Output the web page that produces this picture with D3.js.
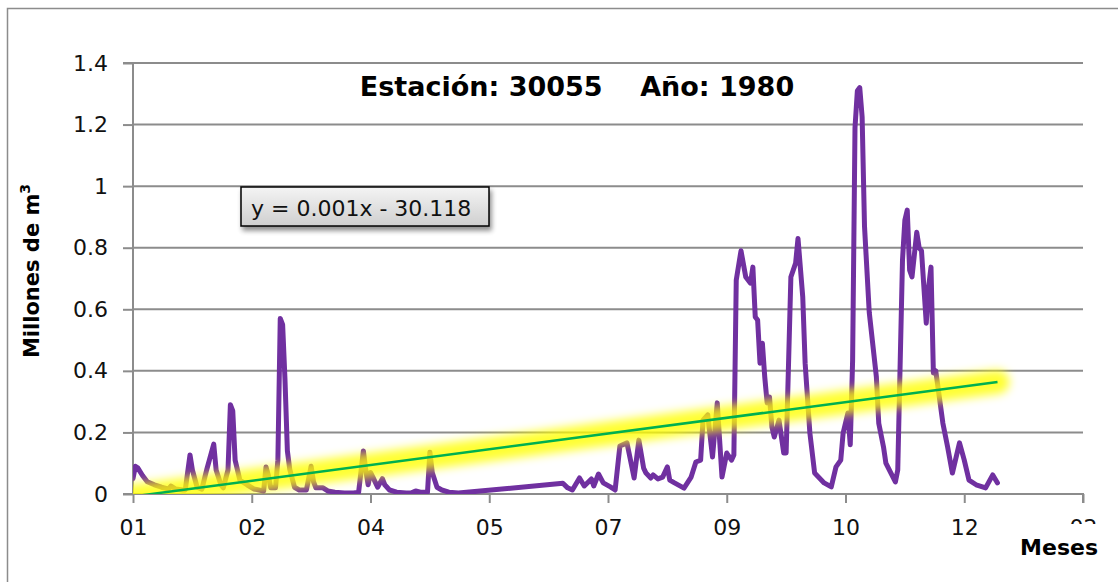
<!DOCTYPE html>
<html>
<head>
<meta charset="utf-8">
<script src="https://cdn.jsdelivr.net/npm/d3@7"></script>
<style>
html,body{margin:0;padding:0;background:#fff;}
svg{display:block;font-family:"DejaVu Sans",sans-serif;}
</style>
</head>
<body>
<svg id="chart" width="1118" height="582"></svg>
<script>
// ---- data ----
const days = [0,1,2,4,6,9,12,15,16,18,21,22,24,25,27,29,31,34,35,37,38,40,41,42,43,45,48,51,55,56,57,58,60,61,62,63,64,65,66,68,70,73,75,76,77,80,82,85,89,93,95,97,98,99,100,101,103,105,106,108,111,115,117,119,121,124,125,126,128,130,133,137,181,183,185,188,190,193,194,196,198,201,203,205,208,211,213,215,216,218,219,221,223,225,226,228,232,235,237,239,240,242,244,246,248,250,252,253,254,256,258,260,261,262,263,264,265,266,267,268,269,270,272,274,275,277,279,280,282,283,285,287,291,294,296,298,299,301,302,303,304,305,306,307,308,310,313,314,316,317,321,322,324,325,326,327,328,330,331,332,334,335,336,337,338,341,343,345,348,350,352,355,359,362,364];
const flows = [0.05,0.09,0.085,0.06,0.04,0.03,0.022,0.016,0.026,0.016,0.013,0.013,0.127,0.078,0.022,0.016,0.078,0.162,0.078,0.03,0.02,0.078,0.29,0.27,0.11,0.045,0.03,0.016,0.01,0.088,0.06,0.02,0.02,0.11,0.57,0.55,0.37,0.14,0.08,0.022,0.013,0.013,0.09,0.04,0.02,0.02,0.01,0.006,0.003,0.003,0.006,0.14,0.078,0.03,0.07,0.055,0.022,0.05,0.03,0.013,0.006,0.003,0.003,0.01,0.006,0.006,0.136,0.07,0.022,0.013,0.006,0.003,0.035,0.02,0.013,0.052,0.026,0.049,0.026,0.065,0.036,0.023,0.013,0.156,0.166,0.052,0.175,0.084,0.068,0.052,0.062,0.049,0.055,0.088,0.045,0.036,0.019,0.055,0.104,0.11,0.24,0.257,0.12,0.296,0.055,0.133,0.11,0.127,0.695,0.79,0.705,0.685,0.737,0.575,0.565,0.425,0.49,0.38,0.296,0.315,0.218,0.185,0.24,0.133,0.133,0.705,0.75,0.83,0.64,0.425,0.198,0.068,0.036,0.023,0.088,0.11,0.198,0.263,0.16,0.435,1.19,1.31,1.32,1.225,0.87,0.59,0.38,0.23,0.153,0.1,0.039,0.078,0.76,0.89,0.922,0.727,0.705,0.85,0.8,0.79,0.555,0.672,0.737,0.393,0.40,0.23,0.153,0.068,0.166,0.11,0.045,0.03,0.02,0.062,0.036];
const trendDays = [0, 364];
const trendValues = [-0.008, 0.364];
const xTickDays = [0,50,100,150,200,250,300,350,400];
const xTickLabels = ["01","02","04","05","07","09","10","12","02"];
const yTicks = [0,0.2,0.4,0.6,0.8,1,1.2,1.4];
const yTickLabels = ["0","0.2","0.4","0.6","0.8","1","1.2","1.4"];
const titleText = "Estación: 30055    Año: 1980";
const equationText = "y = 0.001x - 30.118";

// ---- helpers ----
const base = new Date(1980,0,1).getTime();
const toDate = d => new Date(base + d*864e5);

const svg = d3.select("#chart");
const L = 133, R = 1083, T = 63, B = 494;
const x = d3.scaleTime().domain([toDate(0), toDate(400)]).range([L,R]);
const y = d3.scaleLinear().domain([0,1.4]).range([B,T]);

const defs = svg.append("defs");
defs.append("clipPath").attr("id","plotclip").append("rect")
  .attr("x",L).attr("y",T-5).attr("width",R-L+40).attr("height",B-T+5);
defs.append("clipPath").attr("id","lastclip").append("rect")
  .attr("x",1040).attr("y",515).attr("width",80).attr("height",9);
const blur = defs.append("filter").attr("id","glow").attr("x","-20%").attr("y","-200%").attr("width","140%").attr("height","500%");
blur.append("feGaussianBlur").attr("stdDeviation",5);
const grad = defs.append("linearGradient").attr("id","boxg").attr("x1",0).attr("y1",0).attr("x2",0).attr("y2",1);
grad.append("stop").attr("offset","0%").attr("stop-color","#f4f4f4");
grad.append("stop").attr("offset","100%").attr("stop-color","#cfcfcf");
const sh = defs.append("filter").attr("id","shadow").attr("x","-10%").attr("y","-30%").attr("width","130%").attr("height","180%");
sh.append("feGaussianBlur").attr("in","SourceAlpha").attr("stdDeviation",2.5).attr("result","b");
sh.append("feOffset").attr("in","b").attr("dx",2).attr("dy",4).attr("result","o");
sh.append("feComponentTransfer").attr("in","o").attr("result","o2").append("feFuncA").attr("type","linear").attr("slope",0.45);
const mg = sh.append("feMerge"); mg.append("feMergeNode").attr("in","o2"); mg.append("feMergeNode").attr("in","SourceGraphic");

// outer border
svg.append("rect").attr("x",7.5).attr("y",8.5).attr("width",1130).attr("height",600)
  .attr("fill","none").attr("stroke","#8c8c8c").attr("stroke-width",1.5);

// gridlines
svg.append("g").selectAll("line").data(yTicks.slice(1)).join("line")
  .attr("x1",L).attr("x2",R).attr("y1",d=>y(d)).attr("y2",d=>y(d))
  .attr("stroke","#8c8c8c").attr("stroke-width",2);

// y axis
const yAxis = d3.axisLeft(y).tickValues(yTicks).tickSize(10).tickPadding(15)
  .tickFormat((d,i)=>yTickLabels[i]);
const gy = svg.append("g").attr("transform",`translate(${L},0)`).call(yAxis);
gy.select(".domain").attr("stroke","#8c8c8c").attr("stroke-width",2).attr("d",`M-10,${T}H0V${B}H-10`);
gy.selectAll(".tick line").attr("stroke","#8c8c8c").attr("stroke-width",2);
gy.selectAll("text").attr("font-size",22).attr("fill","#111").attr("font-family","DejaVu Sans");

// x axis
const xAxis = d3.axisBottom(x).tickValues(xTickDays.map(toDate)).tickSize(9).tickPadding(16)
  .tickFormat((d,i)=>xTickLabels[i]);
const gx = svg.append("g").attr("transform",`translate(0,${B})`).call(xAxis);
gx.select(".domain").attr("stroke","#8c8c8c").attr("stroke-width",2).attr("d",`M${L},0H${R}V9`);
gx.selectAll(".tick line").attr("stroke","#8c8c8c").attr("stroke-width",2);
gx.selectAll("text").attr("font-size",22).attr("fill","#111").attr("font-family","DejaVu Sans");
// last tick label is mostly hidden behind the "Meses" title in the reference
gx.selectAll(".tick").filter((d,i)=>i===xTickDays.length-1).select("text")
  .attr("clip-path","url(#lastclip)").attr("transform",`translate(${-x(toDate(400))},${-B})`)
  .attr("x",x(toDate(400))).attr("y",B+16+9).attr("dy","0.71em");

// series
const pts = days.map((d,i)=>[toDate(d), flows[i]]);
const line = d3.line().x(d=>x(d[0])).y(d=>y(d[1]));
const plot = svg.append("g").attr("clip-path","url(#plotclip)");
plot.append("path").datum(pts).attr("d",line).attr("fill","none")
  .attr("stroke","#7030a0").attr("stroke-width",5).attr("stroke-linejoin","round").attr("stroke-linecap","round");

// trendline with glow
const tpts = trendDays.map((d,i)=>[toDate(d), trendValues[i]]);
plot.append("path").datum(tpts).attr("d",line).attr("fill","none")
  .attr("stroke","#ffff00").attr("stroke-opacity",0.8).attr("stroke-width",24).attr("stroke-linecap","round")
  .attr("filter","url(#glow)");
plot.append("path").datum(tpts).attr("d",line).attr("fill","none")
  .attr("stroke","#00b050").attr("stroke-width",2.5);

// title
svg.append("text").attr("x",577).attr("y",96).attr("text-anchor","middle")
  .attr("font-size",27).attr("font-weight","bold").attr("fill","#000")
  .style("white-space","pre").text(titleText);

// y label
svg.append("text").attr("transform","translate(39,271) rotate(-90)").attr("text-anchor","middle")
  .attr("font-size",21).attr("font-weight","bold").attr("fill","#000")
  .call(t=>{t.append("tspan").text("Millones de m"); t.append("tspan").attr("font-size",14).attr("dy",-9).text("3");});

// equation box
svg.append("rect").attr("x",241).attr("y",187).attr("width",248).attr("height",39)
  .attr("fill","url(#boxg)").attr("stroke","#000").attr("stroke-width",1.5).attr("filter","url(#shadow)");
svg.append("text").attr("x",251).attr("y",216).attr("font-size",22).attr("fill","#111").text(equationText);

// Meses label
svg.append("text").attr("x",1098).attr("y",555).attr("text-anchor","end")
  .attr("font-size",22).attr("font-weight","bold").attr("fill","#000").text("Meses");
</script>
</body>
</html>
